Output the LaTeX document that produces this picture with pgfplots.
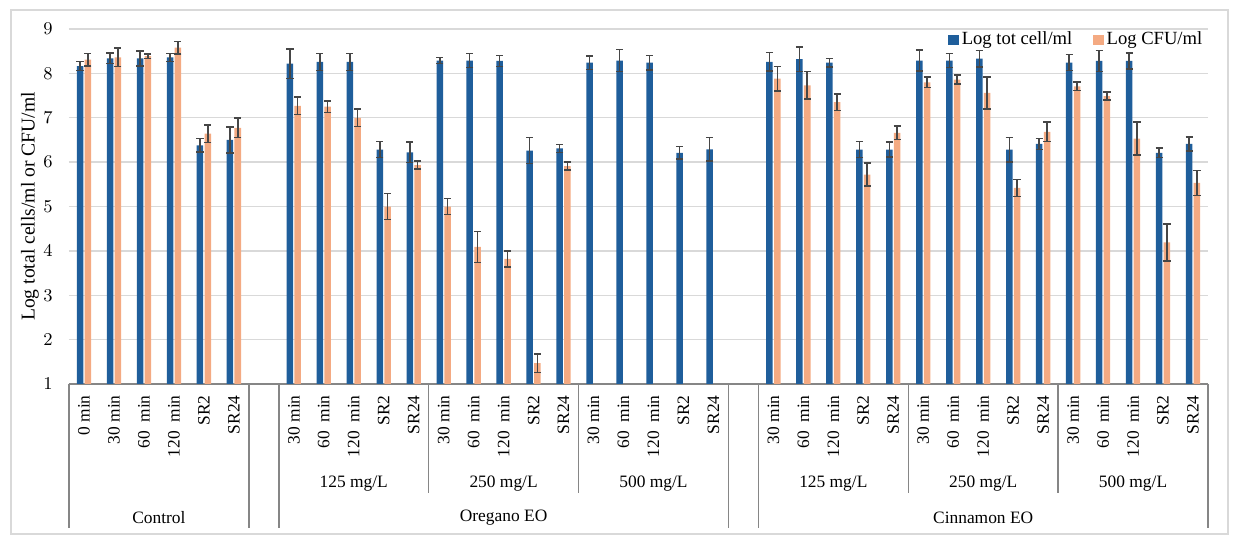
\documentclass[border=0pt]{standalone}
\usepackage{pgfplots}
\usepackage{pgfplotstable}
\pgfplotsset{compat=1.18}
\usepackage{fontspec}
\setmainfont{Liberation Serif}
\definecolor{barblue}{RGB}{31,94,155}
\definecolor{barorange}{RGB}{244,170,130}
\definecolor{errgray}{RGB}{70,70,70}
\definecolor{gridgray}{RGB}{217,217,217}
\definecolor{axgray}{RGB}{134,134,134}
\definecolor{bordergray}{RGB}{217,217,217}
\newcommand{\tf}{\fontsize{8.7}{10}\selectfont}
\newcommand{\lf}{\fontsize{9.3}{11}\selectfont}
\newcommand{\ylf}{\fontsize{9.8}{11}\selectfont}

\pgfplotsset{sqlegend/.style={legend image code/.code={\fill[##1] (0pt,-2.6pt) rectangle (5.2pt,2.6pt);}}}

\pgfplotstableread{
x y e
0 8.165 0.10
1 8.34 0.12
2 8.34 0.17
3 8.36 0.09
4 6.38 0.15
5 6.50 0.29
7 8.22 0.33
8 8.26 0.19
9 8.26 0.19
10 6.28 0.18
11 6.22 0.23
12 8.29 0.07
13 8.29 0.16
14 8.28 0.12
15 6.26 0.29
16 6.31 0.09
17 8.24 0.15
18 8.29 0.25
19 8.24 0.16
20 6.21 0.14
21 6.29 0.26
23 8.26 0.21
24 8.32 0.28
25 8.24 0.10
26 6.28 0.18
27 6.28 0.17
28 8.29 0.24
29 8.29 0.16
30 8.33 0.19
31 6.28 0.28
32 6.41 0.12
33 8.24 0.18
34 8.28 0.24
35 8.28 0.18
36 6.21 0.11
37 6.41 0.16
}\totcell

\pgfplotstableread{
x y e
0 8.31 0.14
1 8.36 0.21
2 8.39 0.05
3 8.58 0.14
4 6.64 0.20
5 6.77 0.22
7 7.27 0.20
8 7.25 0.13
9 7.00 0.20
10 5.00 0.29
11 5.93 0.09
12 5.00 0.18
13 4.09 0.35
14 3.82 0.18
15 1.47 0.21
16 5.91 0.09
23 7.88 0.28
24 7.73 0.31
25 7.35 0.19
26 5.72 0.26
27 6.66 0.15
28 7.80 0.12
29 7.86 0.10
30 7.56 0.36
31 5.42 0.19
32 6.68 0.22
33 7.71 0.10
34 7.49 0.09
35 6.53 0.37
36 4.19 0.42
37 5.53 0.28
}\cfu

\begin{document}
\begin{tikzpicture}
\path[use as bounding box] (-34.5pt,-80pt) rectangle (585pt,192pt);
\draw[bordergray, line width=0.6pt] (-29pt,-75pt) rectangle (579.5pt,187pt);
\begin{axis}[
  at={(0,0)}, anchor=south west,
  scale only axis, width=569.5pt, height=177.5pt,
  xmin=-0.5, xmax=37.5, ymin=1, ymax=9,
  clip mode=individual,
  axis x line*=bottom, axis y line*=left,
  y axis line style={draw=none},
  x axis line style={axgray, line width=0.7pt},
  ytick={1,2,3,4,5,6,7,8,9},
  ymajorgrids, major grid style={gridgray, line width=0.7pt},
  major tick length=0pt,
  xtick={0,1,2,3,4,5,7,8,9,10,11,12,13,14,15,16,17,18,19,20,21,23,24,25,26,27,28,29,30,31,32,33,34,35,36,37},
  xticklabels={0 min,30 min,60\ \ min,120\ \ min,SR2,SR24,
    30 min,60\ \ min,120\ \ min,SR2,SR24,
    30 min,60\ \ min,120\ \ min,SR2,SR24,
    30 min,60\ \ min,120\ \ min,SR2,SR24,
    30 min,60\ \ min,120\ \ min,SR2,SR24,
    30 min,60\ \ min,120\ \ min,SR2,SR24,
    30 min,60\ \ min,120\ \ min,SR2,SR24},
  xticklabel style={rotate=90, anchor=east, inner sep=0pt, font=\tf},
  xticklabel shift=5.5pt,
  yticklabel style={inner sep=0pt, font=\tf},
  yticklabel shift=8pt,
  legend columns=2,
  legend style={at={(0.998,0.969)}, anchor=east, draw=none, fill=none,
    inner sep=0pt, font=\lf, nodes={inner sep=1.5pt},
    /tikz/every even column/.append style={column sep=9pt}},
]
\addplot[ybar, bar width=0.217, bar shift=0pt, fill=barblue, draw=none, sqlegend,
  error bars/.cd, y dir=both, y explicit,
  error bar style={draw=errgray, line width=0.75pt},
  error mark options={draw=errgray, rotate=90, mark size=1.8pt, line width=0.75pt}]
  table[x expr=\thisrow{x}-0.13, y=y, y error=e] {\totcell};
\addlegendentry{Log tot cell/ml}
\addplot[ybar, bar width=0.217, bar shift=0pt, fill=barorange, draw=none, sqlegend,
  error bars/.cd, y dir=both, y explicit,
  error bar style={draw=errgray, line width=0.75pt},
  error mark options={draw=errgray, rotate=90, mark size=1.8pt, line width=0.75pt}]
  table[x expr=\thisrow{x}+0.13, y=y, y error=e] {\cfu};
\addlegendentry{Log CFU/ml}

% category separators
\draw[axgray, line width=0.7pt] (axis cs:-0.5,1) -- ([yshift=-72pt]axis cs:-0.5,1);
\draw[axgray, line width=0.7pt] (axis cs:5.5,1) -- ([yshift=-72pt]axis cs:5.5,1);
\draw[axgray, line width=0.7pt] (axis cs:6.5,1) -- ([yshift=-72pt]axis cs:6.5,1);
\draw[axgray, line width=0.7pt] (axis cs:21.5,1) -- ([yshift=-72pt]axis cs:21.5,1);
\draw[axgray, line width=0.7pt] (axis cs:22.5,1) -- ([yshift=-72pt]axis cs:22.5,1);
\draw[axgray, line width=0.7pt] (axis cs:37.5,1) -- ([yshift=-72pt]axis cs:37.5,1);
\draw[axgray, line width=0.7pt] (axis cs:11.5,1) -- ([yshift=-54.5pt]axis cs:11.5,1);
\draw[axgray, line width=0.7pt] (axis cs:16.5,1) -- ([yshift=-54.5pt]axis cs:16.5,1);
\draw[axgray, line width=0.7pt] (axis cs:27.5,1) -- ([yshift=-54.5pt]axis cs:27.5,1);
\draw[axgray, line width=0.7pt] (axis cs:32.5,1) -- ([yshift=-54.5pt]axis cs:32.5,1);

% group labels
\node[font=\tf] at ([yshift=-50pt]axis cs:9,1) {125 mg/L};
\node[font=\tf] at ([yshift=-50pt]axis cs:14,1) {250 mg/L};
\node[font=\tf] at ([yshift=-50pt]axis cs:19,1) {500 mg/L};
\node[font=\tf] at ([yshift=-50pt]axis cs:25,1) {125 mg/L};
\node[font=\tf] at ([yshift=-50pt]axis cs:30,1) {250 mg/L};
\node[font=\tf] at ([yshift=-50pt]axis cs:35,1) {500 mg/L};
\node[font=\tf] at ([yshift=-67pt]axis cs:2.5,1) {Control};
\node[font=\tf] at ([yshift=-67pt]axis cs:14,1) {Oregano EO};
\node[font=\tf] at ([yshift=-67pt]axis cs:30,1) {Cinnamon EO};
\end{axis}
\node[rotate=90, font=\ylf] at (-19.5pt,88.75pt) {Log total cells/ml or CFU/ml};
\end{tikzpicture}
\end{document}
